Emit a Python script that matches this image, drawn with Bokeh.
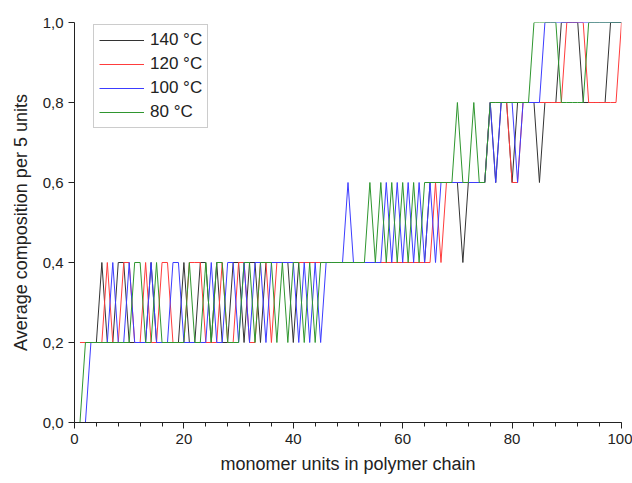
from bokeh.plotting import figure
from bokeh.models import (Range1d, SingleIntervalTicker, FixedTicker,
                          CustomJSTickFormatter, Legend, LegendItem)
from bokeh.embed import file_html
from bokeh.resources import INLINE

# monomer unit index along the chain
units = list(range(1, 101))

comp_140 = [
    0.2, 0.2, 0.2, 0.2, 0.4, 0.2, 0.2, 0.4, 0.4, 0.2,
    0.2, 0.2, 0.2, 0.4, 0.2, 0.2, 0.2, 0.2, 0.2, 0.4,
    0.2, 0.2, 0.4, 0.4, 0.2, 0.4, 0.2, 0.2, 0.4, 0.4,
    0.2, 0.4, 0.4, 0.2, 0.4, 0.4, 0.4, 0.4, 0.4, 0.2,
    0.4, 0.4, 0.4, 0.4, 0.4, 0.4, 0.4, 0.4, 0.4, 0.4,
    0.4, 0.4, 0.4, 0.4, 0.4, 0.4, 0.4, 0.4, 0.4, 0.4,
    0.4, 0.4, 0.4, 0.4, 0.6, 0.6, 0.6, 0.6, 0.6, 0.6,
    0.4, 0.6, 0.6, 0.6, 0.6, 0.8, 0.6, 0.8, 0.8, 0.6,
    0.8, 0.8, 0.8, 0.8, 0.6, 0.8, 0.8, 0.8, 1.0, 1.0,
    1.0, 1.0, 0.8, 0.8, 0.8, 0.8, 0.8, 1.0, 1.0, 1.0,
]
comp_120 = [
    0.2, 0.2, 0.2, 0.2, 0.2, 0.4, 0.2, 0.2, 0.4, 0.4,
    0.2, 0.2, 0.4, 0.2, 0.2, 0.4, 0.4, 0.2, 0.2, 0.2,
    0.4, 0.4, 0.4, 0.2, 0.2, 0.2, 0.4, 0.2, 0.2, 0.4,
    0.4, 0.2, 0.2, 0.4, 0.4, 0.2, 0.4, 0.4, 0.4, 0.4,
    0.4, 0.4, 0.4, 0.4, 0.4, 0.4, 0.4, 0.4, 0.4, 0.4,
    0.4, 0.4, 0.4, 0.4, 0.4, 0.4, 0.4, 0.4, 0.4, 0.4,
    0.4, 0.4, 0.4, 0.4, 0.4, 0.6, 0.4, 0.6, 0.6, 0.6,
    0.6, 0.6, 0.6, 0.6, 0.6, 0.8, 0.8, 0.8, 0.8, 0.6,
    0.6, 0.8, 0.8, 0.8, 0.8, 0.8, 0.8, 0.8, 0.8, 1.0,
    1.0, 1.0, 1.0, 0.8, 0.8, 0.8, 0.8, 0.8, 0.8, 1.0,
]
comp_100 = [
    0.0, 0.0, 0.2, 0.2, 0.2, 0.2, 0.4, 0.2, 0.2, 0.4,
    0.2, 0.2, 0.2, 0.4, 0.2, 0.2, 0.2, 0.4, 0.4, 0.2,
    0.2, 0.2, 0.2, 0.2, 0.4, 0.2, 0.2, 0.4, 0.4, 0.2,
    0.4, 0.2, 0.4, 0.4, 0.2, 0.4, 0.4, 0.4, 0.4, 0.4,
    0.2, 0.4, 0.2, 0.4, 0.2, 0.4, 0.4, 0.4, 0.4, 0.6,
    0.4, 0.4, 0.4, 0.4, 0.4, 0.4, 0.6, 0.4, 0.6, 0.4,
    0.6, 0.4, 0.6, 0.4, 0.6, 0.4, 0.6, 0.6, 0.6, 0.6,
    0.6, 0.6, 0.6, 0.6, 0.6, 0.8, 0.6, 0.8, 0.8, 0.8,
    0.6, 0.8, 0.8, 0.8, 0.8, 1.0, 1.0, 1.0, 1.0, 1.0,
    1.0, 1.0, 1.0, 1.0, 1.0, 1.0, 1.0, 1.0, 1.0, 1.0,
]
comp_80 = [
    0.0, 0.2, 0.2, 0.2, 0.2, 0.2, 0.2, 0.2, 0.2, 0.2,
    0.4, 0.4, 0.2, 0.2, 0.4, 0.2, 0.2, 0.2, 0.2, 0.2,
    0.4, 0.2, 0.2, 0.4, 0.2, 0.4, 0.4, 0.2, 0.2, 0.2,
    0.4, 0.4, 0.2, 0.4, 0.4, 0.4, 0.2, 0.4, 0.2, 0.4,
    0.4, 0.2, 0.4, 0.2, 0.4, 0.4, 0.4, 0.4, 0.4, 0.4,
    0.4, 0.4, 0.4, 0.6, 0.4, 0.6, 0.4, 0.6, 0.4, 0.6,
    0.4, 0.6, 0.4, 0.6, 0.6, 0.6, 0.6, 0.6, 0.6, 0.8,
    0.6, 0.6, 0.8, 0.6, 0.6, 0.8, 0.8, 0.8, 0.8, 0.8,
    0.8, 0.8, 0.8, 1.0, 1.0, 1.0, 1.0, 1.0, 0.8, 0.8,
    0.8, 0.8, 0.8, 1.0, 1.0, 1.0, 1.0, 1.0, 1.0, 1.0,
]

series_labels = ["140 °C", "120 °C", "100 °C", "80 °C"]
series_values = [comp_140, comp_120, comp_100, comp_80]
series_colors = ["#333333", "#ff3c3c", "#3c3cff", "#2f962f"]

y_ticks = [0.0, 0.2, 0.4, 0.6, 0.8, 1.0]

FONT = "Liberation Sans"

p = figure(width=632, height=483, output_backend="svg", toolbar_location=None,
           x_range=Range1d(0, 100), y_range=Range1d(0, 1.0),
           min_border_left=74, min_border_right=11,
           min_border_top=22, min_border_bottom=61)

p.outline_line_color = None
p.xgrid.visible = False
p.ygrid.visible = False
p.background_fill_color = "white"
p.border_fill_color = "white"

renderers = []
for vals, col in zip(series_values, series_colors):
    r = p.line(units, vals, line_color=col, line_width=1)
    renderers.append(r)

# axes
xa = p.xaxis[0]
xa.ticker = SingleIntervalTicker(interval=20, num_minor_ticks=5)
xa.axis_label = "monomer units in polymer chain"
ya = p.yaxis[0]
ya.ticker = FixedTicker(ticks=y_ticks, minor_ticks=[])
ya.formatter = CustomJSTickFormatter(code="return tick.toFixed(1).replace('.', ',');")
ya.axis_label = "Average composition per 5 units"

for ax in (xa, ya):
    ax.axis_line_color = "#222222"
    ax.axis_line_width = 1
    ax.major_tick_line_color = "#222222"
    ax.minor_tick_line_color = "#222222"
    ax.major_tick_in = 0
    ax.major_tick_out = 6
    ax.minor_tick_in = 0
    ax.minor_tick_out = 4
    ax.major_label_text_font = FONT
    ax.major_label_text_font_size = "15px"
    ax.major_label_text_color = "#222222"
    ax.axis_label_text_font = FONT
    ax.axis_label_text_font_size = "18px"
    ax.axis_label_text_font_style = "normal"
    ax.axis_label_text_color = "#222222"
    ax.major_label_standoff = 5

xa.axis_label_standoff = 7
ya.axis_label_standoff = 9

legend = Legend(items=[LegendItem(label=l, renderers=[r])
                       for l, r in zip(series_labels, renderers)],
                location=(19, 294))
legend.label_text_font = FONT
legend.label_text_font_size = "17px"
legend.label_text_color = "#222222"
legend.glyph_width = 45
legend.glyph_height = 20
legend.label_height = 20
legend.label_standoff = 6
legend.spacing = 4
legend.padding = 5
legend.margin = 0
legend.border_line_color = "#999999"
legend.border_line_width = 1
legend.background_fill_alpha = 1.0
p.add_layout(legend)

open("out.html", "w").write(file_html(p, INLINE))
